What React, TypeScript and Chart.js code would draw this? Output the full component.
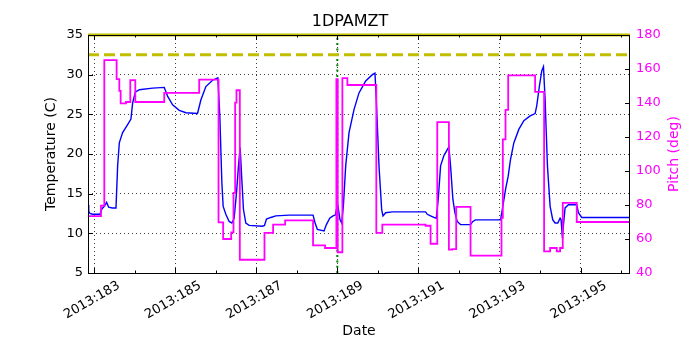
import { useEffect, useRef } from 'react';
import { Chart, registerables } from 'chart.js';

Chart.register(...registerables);

// ---- Data (day of year 2013) ----
const X_MIN = 182.852;
const X_MAX = 196.218;
const xTickDays = [183, 184, 185, 186, 187, 188, 189, 190, 191, 192, 193, 194, 195, 196];
const tempTicks = [5, 10, 15, 20, 25, 30, 35];
const pitchTicks = [40, 60, 80, 100, 120, 140, 160, 180];

const tempDays = [
  182.852, 182.87, 182.9, 182.967, 183.148, 183.197, 183.254, 183.312, 183.361, 183.45,
  183.542, 183.583, 183.624, 183.706, 183.829, 183.911, 183.952, 184.018, 184.117, 184.445,
  184.732, 184.814, 184.938, 185.102, 185.268, 185.553, 185.635, 185.759, 185.923, 186.054,
  186.103, 186.153, 186.185, 186.251, 186.333, 186.399, 186.456, 186.514, 186.563, 186.604,
  186.645, 186.686, 186.744, 186.826, 187.154, 187.204, 187.253, 187.36, 187.483, 187.811,
  188.402, 188.452, 188.509, 188.673, 188.731, 188.813, 188.895, 188.95, 188.977, 189.018,
  189.067, 189.108, 189.149, 189.207, 189.289, 189.412, 189.535, 189.7, 189.864, 189.929,
  189.962, 190.028, 190.094, 190.126, 190.192, 190.357, 191.177, 191.218, 191.3, 191.382,
  191.44, 191.489, 191.547, 191.629, 191.752, 191.793, 191.85, 191.9, 191.957, 192.039,
  192.286, 192.343, 192.409, 193.025, 193.082, 193.148, 193.214, 193.271, 193.353, 193.476,
  193.6, 193.755, 193.878, 193.919, 193.985, 194.043, 194.084, 194.125, 194.182, 194.248,
  194.314, 194.371, 194.437, 194.494, 194.519, 194.552, 194.576, 194.617, 194.7, 194.905,
  194.946, 195.028, 196.218,
];
const tempValues = [
  13.6, 12.8, 12.5, 12.4, 12.4, 13.1, 13.4, 13.9, 13.3, 13.2,
  13.2, 18.5, 21.4, 22.7, 23.7, 24.4, 26.4, 27.8, 28.1, 28.3,
  28.4, 27.3, 26.2, 25.5, 25.2, 25.1, 26.8, 28.5, 29.3, 29.6,
  24.8, 16.4, 13.4, 12.4, 11.5, 11.3, 11.9, 15.1, 18.5, 20.8,
  16.8, 13.0, 11.3, 11.0, 10.9, 11.0, 11.8, 12.0, 12.2, 12.3,
  12.3, 11.3, 10.5, 10.3, 11.1, 11.9, 12.2, 12.3, 13.0, 13.4,
  11.7, 11.3, 13.4, 18.5, 22.7, 25.6, 27.7, 29.2, 30.0, 30.2,
  26.8, 18.5, 13.0, 12.2, 12.6, 12.7, 12.7, 12.4, 12.2, 12.0,
  11.9, 14.3, 18.5, 19.8, 20.9, 18.5, 14.3, 12.6, 11.5, 11.1,
  11.1, 11.5, 11.7, 11.7, 13.4, 15.5, 17.2, 19.3, 21.4, 23.1,
  24.2, 24.8, 25.1, 26.1, 28.6, 30.5, 31.0, 26.8, 18.5, 13.4,
  11.7, 11.3, 11.3, 11.9, 11.7, 9.4, 11.0, 13.2, 13.6, 13.6,
  12.6, 12.0, 12.0,
];

const pitchDays = [
  182.852, 183.172, 183.254, 183.558, 183.624, 183.657, 183.788, 183.895, 184.018, 184.732,
  185.594, 186.071, 186.185, 186.383, 186.44, 186.481, 186.514, 186.596, 187.204, 187.417,
  187.713, 188.402, 188.698, 188.977, 189.01, 189.125, 189.248, 189.962, 190.11, 191.177,
  191.3, 191.465, 191.752, 191.834, 191.932, 192.286, 193.049, 193.082, 193.148, 193.214,
  193.878, 194.1, 194.248, 194.412, 194.494, 194.56, 194.905, 196.218,
];
const pitchValues = [
  73.5, 79.6, 165.2, 154.0, 147.1, 139.8, 140.6, 153.4, 140.6, 145.9,
  153.8, 69.8, 60.0, 63.9, 87.1, 140.2, 147.5, 47.8, 63.6, 68.4,
  71.0, 56.3, 54.7, 154.0, 52.2, 154.6, 150.6, 63.6, 68.4, 67.8,
  57.2, 128.8, 53.7, 54.1, 78.9, 50.2, 72.4, 118.6, 135.9, 156.3,
  146.5, 52.7, 54.7, 52.7, 54.7, 81.2, 70.0, 70.0,
];

const TEMP_LIMIT_HIGH = 35;
const TEMP_LIMIT_PLAN = 32.5;
const MARK_DAY = 189.0;

const TITLE = '1DPAMZT';
const FONT = 'DejaVu Sans';
const MAGENTA = '#ff00ff';
const YELLOW = '#bfbf00';

const framePlugin = {
  id: 'frameTicks',
  afterDatasetsDraw(chart: any) {
    const { ctx, chartArea: a, scales } = chart;
    const x = scales.x;
    const y = scales.y;
    const y2 = scales.y2;
    ctx.save();
    ctx.strokeStyle = '#000';
    ctx.lineWidth = 1;
    ctx.setLineDash([]);
    ctx.beginPath();
    for (const d of xTickDays) {
      const px = Math.round(x.getPixelForValue(d)) + 0.5;
      const len = d % 2 === 1 ? 5 : 2.5;
      ctx.moveTo(px, a.bottom);
      ctx.lineTo(px, a.bottom - len);
      ctx.moveTo(px, a.top);
      ctx.lineTo(px, a.top + len);
    }
    for (const t of tempTicks) {
      const py = Math.round(y.getPixelForValue(t)) + 0.5;
      ctx.moveTo(a.left, py);
      ctx.lineTo(a.left + 5, py);
    }
    for (const p of pitchTicks) {
      const py = Math.round(y2.getPixelForValue(p)) + 0.5;
      ctx.moveTo(a.right, py);
      ctx.lineTo(a.right - 5, py);
    }
    ctx.stroke();
    ctx.strokeRect(a.left + 0.5, a.top + 0.5, a.right - a.left - 1, a.bottom - a.top);
    ctx.translate(a.right + 44, (a.top + a.bottom) / 2);
    ctx.rotate(-Math.PI / 2);
    ctx.fillStyle = MAGENTA;
    ctx.font = `14px "${FONT}"`;
    ctx.textAlign = 'center';
    ctx.textBaseline = 'middle';
    ctx.fillText('Pitch (deg)', 0, 0);
    ctx.restore();
  },
};

export default function App() {
  const ref = useRef<HTMLCanvasElement>(null);
  useEffect(() => {
    if (!ref.current) return;
    Chart.defaults.font.family = FONT;
    const chart = new Chart(ref.current, {
      type: 'line',
      data: {
        datasets: [
          {
            label: 'Pitch',
            data: pitchDays.map((d, i) => ({ x: d, y: pitchValues[i] })),
            yAxisID: 'y2',
            stepped: true,
            borderColor: MAGENTA,
            borderWidth: 1.8,
            pointRadius: 0,
            fill: false,
            order: 0,
          },
          {
            label: 'Temperature',
            data: tempDays.map((d, i) => ({ x: d, y: tempValues[i] })),
            yAxisID: 'y',
            borderColor: '#0000ff',
            borderWidth: 1.4,
            pointRadius: 0,
            tension: 0,
            fill: false,
            order: 1,
          },
          {
            label: 'limit',
            data: [{ x: X_MIN, y: TEMP_LIMIT_HIGH }, { x: X_MAX, y: TEMP_LIMIT_HIGH }],
            yAxisID: 'y',
            borderColor: YELLOW,
            borderWidth: 3,
            pointRadius: 0,
            clip: 3,
            order: 2,
          },
          {
            label: 'planning',
            data: [{ x: X_MIN, y: TEMP_LIMIT_PLAN }, { x: X_MAX, y: TEMP_LIMIT_PLAN }],
            yAxisID: 'y',
            borderColor: YELLOW,
            borderWidth: 3,
            borderDash: [11, 5],
            pointRadius: 0,
            order: 2,
          },
          {
            label: 'mark',
            data: [{ x: MARK_DAY, y: 5 }, { x: MARK_DAY, y: 35 }],
            yAxisID: 'y',
            borderColor: '#008000',
            borderWidth: 2,
            borderDash: [2, 3.3],
            pointRadius: 0,
            order: 2,
          },
        ],
      },
      options: {
        animation: false,
        responsive: true,
        maintainAspectRatio: false,
        devicePixelRatio: 1,
        layout: { padding: 0 },
        plugins: {
          legend: { display: false },
          tooltip: { enabled: false },
          title: {
            display: true,
            text: TITLE,
            color: '#000',
            font: { size: 16, weight: 'normal', family: FONT },
            padding: { top: 12, bottom: 3.8 },
          },
        },
        scales: {
          x: {
            type: 'linear',
            min: X_MIN,
            max: X_MAX,
            afterBuildTicks: (s: any) => {
              s.ticks = xTickDays.map((v) => ({ value: v }));
            },
            afterFit: (s: any) => {
              s.height = 77;
            },
            ticks: {
              autoSkip: false,
              minRotation: 30,
              maxRotation: 30,
              padding: 5,
              labelOffset: 25,
              color: '#000',
              font: { size: 13, family: FONT },
              callback: (v: any) => (Number(v) % 2 === 1 ? '2013:' + v : ''),
            },
            grid: {
              drawTicks: false,
              lineWidth: 1,
              color: (c: any) => (c.tick && c.tick.value % 2 === 1 ? 'rgba(0,0,0,0.75)' : 'rgba(0,0,0,0)'),
            },
            border: { display: false, dash: [1, 3] },
            title: {
              display: true,
              text: 'Date',
              color: '#000',
              font: { size: 14, family: FONT },
              padding: { top: 0, bottom: 10 },
            },
          },
          y: {
            type: 'linear',
            position: 'left',
            min: 5,
            max: 35,
            afterFit: (s: any) => {
              s.width = 88;
            },
            ticks: {
              stepSize: 5,
              padding: 5,
              color: '#000',
              font: { size: 13, family: FONT },
            },
            grid: { drawTicks: false, lineWidth: 1, color: 'rgba(0,0,0,0.75)' },
            border: { display: false, dash: [1, 3] },
            title: {
              display: true,
              text: 'Temperature (C)',
              color: '#000',
              font: { size: 14, family: FONT },
              padding: { top: 43, bottom: 0 },
            },
          },
          y2: {
            type: 'linear',
            position: 'right',
            min: 40,
            max: 180,
            afterFit: (s: any) => {
              s.width = 70;
            },
            ticks: {
              stepSize: 20,
              padding: 6,
              color: MAGENTA,
              font: { size: 13, family: FONT },
            },
            grid: { drawOnChartArea: false, drawTicks: false },
            border: { display: false },
          },
        },
      },
      plugins: [framePlugin],
    });
    return () => chart.destroy();
  }, []);
  return (
    <div style={{ position: 'fixed', left: 0, top: 0, width: 700, height: 350 }}>
      <canvas ref={ref} />
    </div>
  );
}
